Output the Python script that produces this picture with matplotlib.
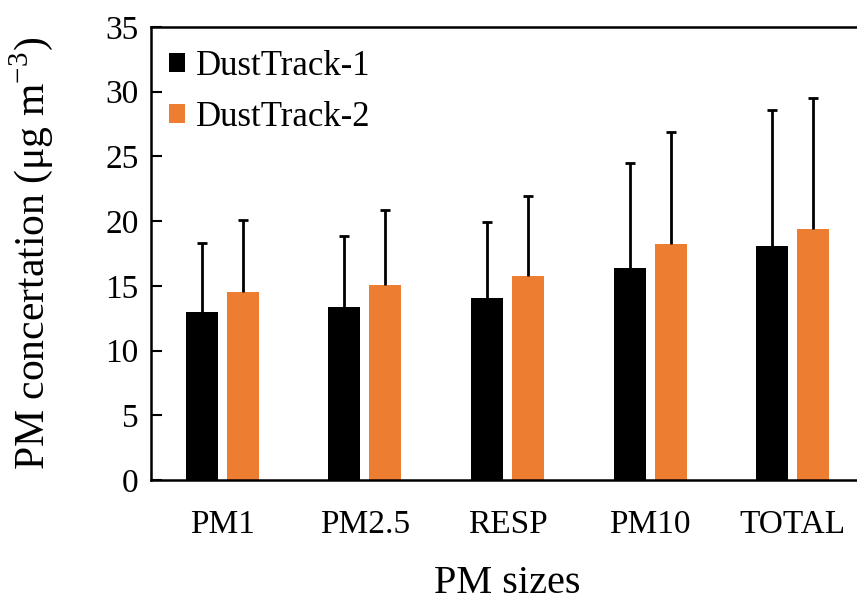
import matplotlib
matplotlib.use("Agg")
import matplotlib.pyplot as plt
import numpy as np

categories = ["PM1", "PM2.5", "RESP", "PM10", "TOTAL"]
dt1_mean = [13.0, 13.4, 14.1, 16.4, 18.1]
dt1_err_top = [18.3, 18.85, 19.9, 24.5, 28.55]
dt2_mean = [14.55, 15.05, 15.75, 18.2, 19.4]
dt2_err_top = [20.1, 20.85, 21.95, 26.85, 29.5]
series_names = ["DustTrack-1", "DustTrack-2"]
yticks = [0, 5, 10, 15, 20, 25, 30, 35]

plt.rcParams['font.family'] = ['Liberation Serif', 'DejaVu Serif']
plt.rcParams['mathtext.fontset'] = 'custom'
plt.rcParams['mathtext.rm'] = 'Liberation Serif'

fig = plt.figure(figsize=(8.57, 6.04), dpi=100)
ax = fig.add_axes([151/857, 1-480/604, (864-151)/857, (480-27)/604])

x = np.arange(len(categories))
w = 0.225
off = 0.144
e1 = np.array(dt1_err_top) - np.array(dt1_mean)
e2 = np.array(dt2_err_top) - np.array(dt2_mean)
err_kw = dict(ecolor='black', elinewidth=2.0, capsize=3.5, capthick=2.0)
b1 = ax.bar(x - off, dt1_mean, w, color='black', label=series_names[0],
            yerr=[np.zeros_like(e1), e1], error_kw=err_kw, zorder=2)
b2 = ax.bar(x + off, dt2_mean, w, color='#ED7D31', label=series_names[1],
            yerr=[np.zeros_like(e2), e2], error_kw=err_kw, zorder=2)
for bc in (b1, b2):
    caps = bc.errorbar.lines[1]
    if len(caps) == 2:
        caps[0].set_visible(False)

ax.set_xlim(-0.5, len(categories) - 0.5)
ax.set_ylim(0, 35)
ax.set_yticks(yticks)
ax.set_xticks(x)
ax.set_xticklabels(categories)
ax.tick_params(axis='y', direction='in', length=8, width=1.5, labelsize=24, pad=9)
ax.tick_params(axis='x', length=0, labelsize=24, pad=21)
for s in ax.spines.values():
    s.set_linewidth(1.8)

ax.set_xlabel("PM sizes", fontsize=29, labelpad=18)
ax.set_ylabel("PM concertation (μg m$^{-3}$)", fontsize=30, labelpad=36)

leg = ax.legend(loc='upper left', frameon=False, fontsize=25, handlelength=0.46,
                handleheight=0.46, handletextpad=0.3, labelspacing=0.52,
                borderaxespad=0.13, bbox_to_anchor=(0.0, 0.99))

fig.savefig("out.png", dpi=100)
